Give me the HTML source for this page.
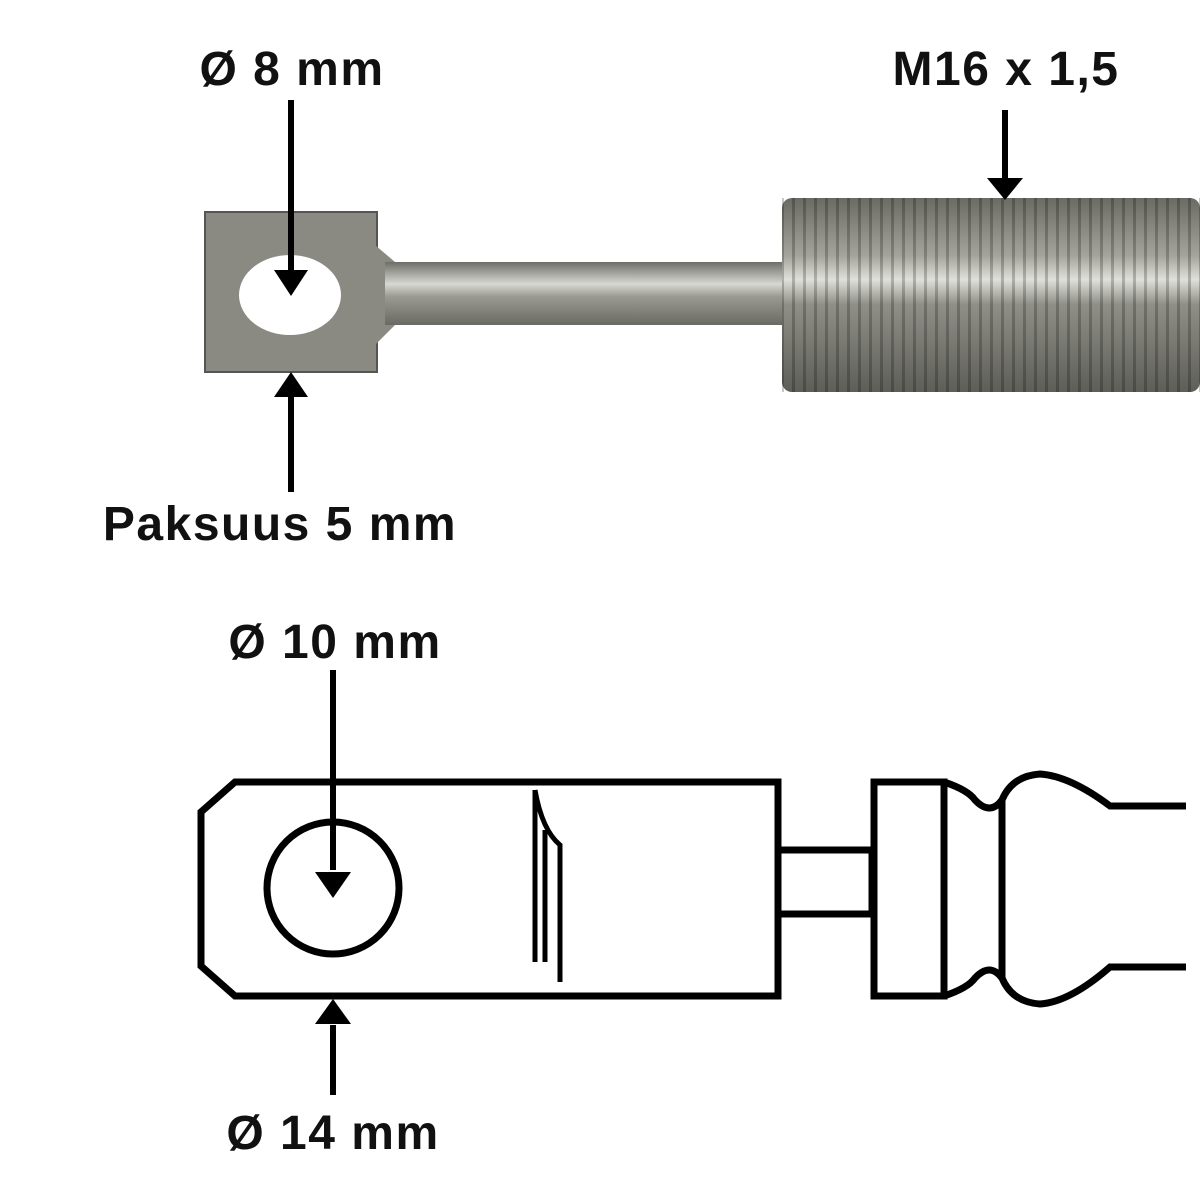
<!DOCTYPE html>
<html><head><style>
html,body{margin:0;padding:0;background:#fff;}
svg{display:block}
text{font-family:"Liberation Sans",sans-serif;font-weight:bold;font-size:48px;letter-spacing:1.5px;fill:#111;}
</style></head><body>
<svg width="1200" height="1200" viewBox="0 0 1200 1200" xmlns="http://www.w3.org/2000/svg">
<defs>
<linearGradient id="rod" x1="0" y1="0" x2="0" y2="1">
<stop offset="0" stop-color="#6e6e68"/><stop offset="0.35" stop-color="#d8d8d2"/><stop offset="0.55" stop-color="#9a9a92"/><stop offset="1" stop-color="#6a6a64"/>
</linearGradient>
<linearGradient id="thr" x1="0" y1="0" x2="0" y2="1">
<stop offset="0" stop-color="#6a6a64"/><stop offset="0.3" stop-color="#a5a59d"/><stop offset="0.42" stop-color="#e0e0da"/><stop offset="0.55" stop-color="#8f8f88"/><stop offset="1" stop-color="#5e5e58"/>
</linearGradient>
<pattern id="ridges" width="11" height="200" patternUnits="userSpaceOnUse">
<rect x="0" y="0" width="3" height="200" fill="#000" opacity="0.22"/>
</pattern>
</defs>
<rect x="205" y="212" width="172" height="160" fill="#8a8a82" stroke="#555" stroke-width="2"/>
<path d="M375 245 L395 262 L395 325 L375 345 Z" fill="#8a8a82"/>
<rect x="385" y="262" width="400" height="63" fill="url(#rod)"/>
<rect x="782" y="198" width="418" height="194" rx="10" fill="url(#thr)"/>
<rect x="782" y="198" width="418" height="194" fill="url(#ridges)"/>
<ellipse cx="290" cy="295" rx="51" ry="40" fill="#fff"/>
<g stroke="#000" stroke-width="6">
<line x1="291" y1="100" x2="291" y2="270"/>
<line x1="291" y1="395" x2="291" y2="492"/>
<line x1="1005" y1="110" x2="1005" y2="180"/>
<line x1="333" y1="670" x2="333" y2="870"/>
<line x1="333" y1="1025" x2="333" y2="1095"/>
</g>
<g fill="#000">
<polygon points="274,270 308,270 291,296"/>
<polygon points="274,397 308,397 291,372"/>
<polygon points="987,178 1023,178 1005,200"/>
<polygon points="315,872 351,872 333,898"/>
<polygon points="315,1024 351,1024 333,999"/>
</g>
<text x="292" y="85" text-anchor="middle">Ø 8 mm</text>
<text x="1006" y="85" text-anchor="middle">M16 x 1,5</text>
<text x="280" y="540" text-anchor="middle">Paksuus 5 mm</text>
<text x="335" y="658" text-anchor="middle">Ø 10 mm</text>
<text x="333" y="1149" text-anchor="middle">Ø 14 mm</text>
<g fill="none" stroke="#000" stroke-width="7">
<polygon points="235,782 778,782 778,996 235,996 201,966 201,812"/>
<circle cx="333" cy="888" r="66"/>
<rect x="778" y="850" width="94" height="64"/>
<rect x="874" y="782" width="70" height="214"/>
<path d="M944 782 Q968 790 975 800 Q990 816 1002 800 Q1012 776 1040 774 Q1070 776 1110 806 L1186 806"/>
<path d="M944 996 Q968 988 975 978 Q990 962 1002 978 Q1012 1002 1040 1004 Q1070 1002 1110 967 L1186 967"/>
<path d="M1002 800 L1002 978"/>
</g>
<g fill="none" stroke="#000" stroke-width="5">
<path d="M535 790 L535 962"/>
<path d="M535 790 Q542 830 560 845 L560 982"/>
<path d="M545 830 L545 962"/>
</g>
</svg>
</body></html>
